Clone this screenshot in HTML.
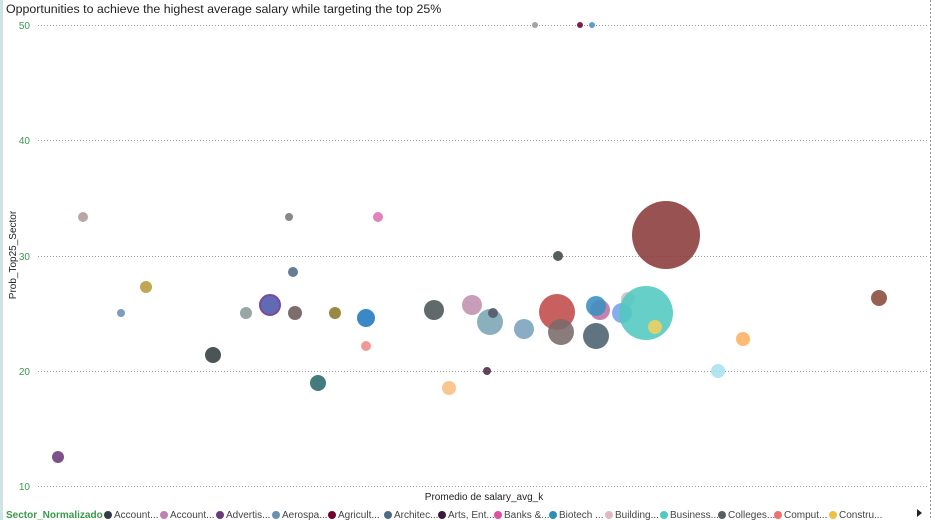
<!DOCTYPE html>
<html><head><style>
body{margin:0;background:#fff;}
svg{display:block;font-family:"Liberation Sans",sans-serif;}
</style></head><body>
<svg width="935" height="520" viewBox="0 0 935 520">
<rect x="0" y="0" width="3" height="520" fill="#cfe3e3"/>
<line x1="930.5" y1="0" x2="930.5" y2="520" stroke="#999" stroke-dasharray="2,2"/>
<text x="6" y="13" font-size="12.4" fill="#222">Opportunities to achieve the highest average salary while targeting the top 25%</text>
<g stroke="#999" stroke-dasharray="1,2" stroke-width="1">
<line x1="38" y1="25.5" x2="928" y2="25.5"/>
<line x1="38" y1="140.5" x2="928" y2="140.5"/>
<line x1="38" y1="256.5" x2="928" y2="256.5"/>
<line x1="38" y1="371.5" x2="928" y2="371.5"/>
<line x1="38" y1="486.5" x2="928" y2="486.5"/>
</g>
<g font-size="10" fill="#3a9a4a" text-anchor="end">
<text x="30" y="29">50</text><text x="30" y="144">40</text><text x="30" y="260">30</text><text x="30" y="375">20</text><text x="30" y="490">10</text>
</g>
<text transform="translate(16,255) rotate(-90)" font-size="10" fill="#222" text-anchor="middle">Prob_Top25_Sector</text>
<text x="484" y="500" font-size="10" fill="#222" text-anchor="middle">Promedio de salary_avg_k</text>
<g fill-opacity="0.88">
<circle cx="58" cy="457" r="6" fill="#6b3a7a"/>
<circle cx="83" cy="217" r="5" fill="#b09a9a"/>
<circle cx="121" cy="313" r="4" fill="#6a8fb5"/>
<circle cx="146" cy="287" r="6" fill="#b59a3a"/>
<circle cx="213" cy="355" r="8" fill="#333d3d"/>
<circle cx="246" cy="313" r="6" fill="#8a9a9a"/>
<circle cx="270" cy="305" r="10" fill="#4a57a8" stroke="#7a4a9a" stroke-width="2"/>
<circle cx="289" cy="217" r="4" fill="#777"/>
<circle cx="293" cy="272" r="5" fill="#4f6a85"/>
<circle cx="295" cy="313" r="7" fill="#6b5a5a"/>
<circle cx="318" cy="383" r="8" fill="#2a6a6a"/>
<circle cx="335" cy="313" r="6" fill="#8a7a2a"/>
<circle cx="366" cy="318" r="9" fill="#1f77c0"/>
<circle cx="366" cy="346" r="5" fill="#f08a8a"/>
<circle cx="378" cy="217" r="5" fill="#e070b0"/>
<circle cx="434" cy="310" r="10" fill="#4a5555"/>
<circle cx="449" cy="388" r="7" fill="#f9be80"/>
<circle cx="472" cy="305" r="10" fill="#c090b0"/>
<circle cx="487" cy="371" r="4" fill="#4a2a4a"/>
<circle cx="490" cy="322" r="13" fill="#7aa5b5"/>
<circle cx="493" cy="313" r="5" fill="#556"/>
<circle cx="524" cy="329" r="10" fill="#7aa0bd"/>
<circle cx="535" cy="25" r="3" fill="#999"/>
<circle cx="557" cy="312" r="18" fill="#c04a4a"/>
<circle cx="558" cy="256" r="5" fill="#3a4a4a"/>
<circle cx="561" cy="332" r="13" fill="#7a6a6a"/>
<circle cx="580" cy="25" r="3" fill="#700030"/>
<circle cx="592" cy="25" r="3" fill="#4a90d0"/>
<circle cx="596" cy="336" r="13" fill="#4a6070"/>
<circle cx="600" cy="310" r="10" fill="#c070a0"/>
<circle cx="596" cy="306" r="10" fill="#3a90c0"/>
<circle cx="622" cy="313" r="10" fill="#7aa0ea"/>
<circle cx="628" cy="299" r="7" fill="#d0c0c0"/>
<circle cx="646" cy="313" r="27" fill="#50c8c0"/>
<circle cx="655" cy="327" r="7" fill="#f0d060"/>
<circle cx="666" cy="235" r="34" fill="#8a3a3a"/>
<circle cx="718" cy="371" r="7" fill="#a8e0f0"/>
<circle cx="743" cy="339" r="7" fill="#ffb060"/>
<circle cx="879" cy="298" r="8" fill="#8a4a3a"/>
</g>
<g font-size="10" fill="#444">
<text x="6" y="518" fill="#3a9a4a" font-weight="bold">Sector_Normalizado</text>
<circle cx="108" cy="515" r="4" fill="#333d4a"/><text x="114" y="518">Account...</text>
<circle cx="164" cy="515" r="4" fill="#c080b0"/><text x="170" y="518">Account...</text>
<circle cx="220" cy="515" r="4" fill="#6b3a7a"/><text x="226" y="518">Advertis...</text>
<circle cx="276" cy="515" r="4" fill="#6a8fb5"/><text x="282" y="518">Aerospa...</text>
<circle cx="332" cy="515" r="4" fill="#700030"/><text x="338" y="518">Agricult...</text>
<circle cx="388" cy="515" r="4" fill="#4f6a85"/><text x="394" y="518">Architec...</text>
<circle cx="442" cy="515" r="4" fill="#3a1a3a"/><text x="448" y="518">Arts, Ent...</text>
<circle cx="498" cy="515" r="4" fill="#e050a0"/><text x="504" y="518">Banks &amp;...</text>
<circle cx="553" cy="515" r="4" fill="#2a90b8"/><text x="559" y="518">Biotech ...</text>
<circle cx="609" cy="515" r="4" fill="#e0b8c0"/><text x="615" y="518">Building...</text>
<circle cx="664" cy="515" r="4" fill="#50c8c0"/><text x="670" y="518">Business...</text>
<circle cx="722" cy="515" r="4" fill="#556060"/><text x="728" y="518">Colleges...</text>
<circle cx="778" cy="515" r="4" fill="#f07070"/><text x="784" y="518">Comput...</text>
<circle cx="833" cy="515" r="4" fill="#f0c040"/><text x="839" y="518">Constru...</text>
<path d="M917 509 L922 513 L917 517 Z" fill="#222"/>
</g>
</svg>
</body></html>
